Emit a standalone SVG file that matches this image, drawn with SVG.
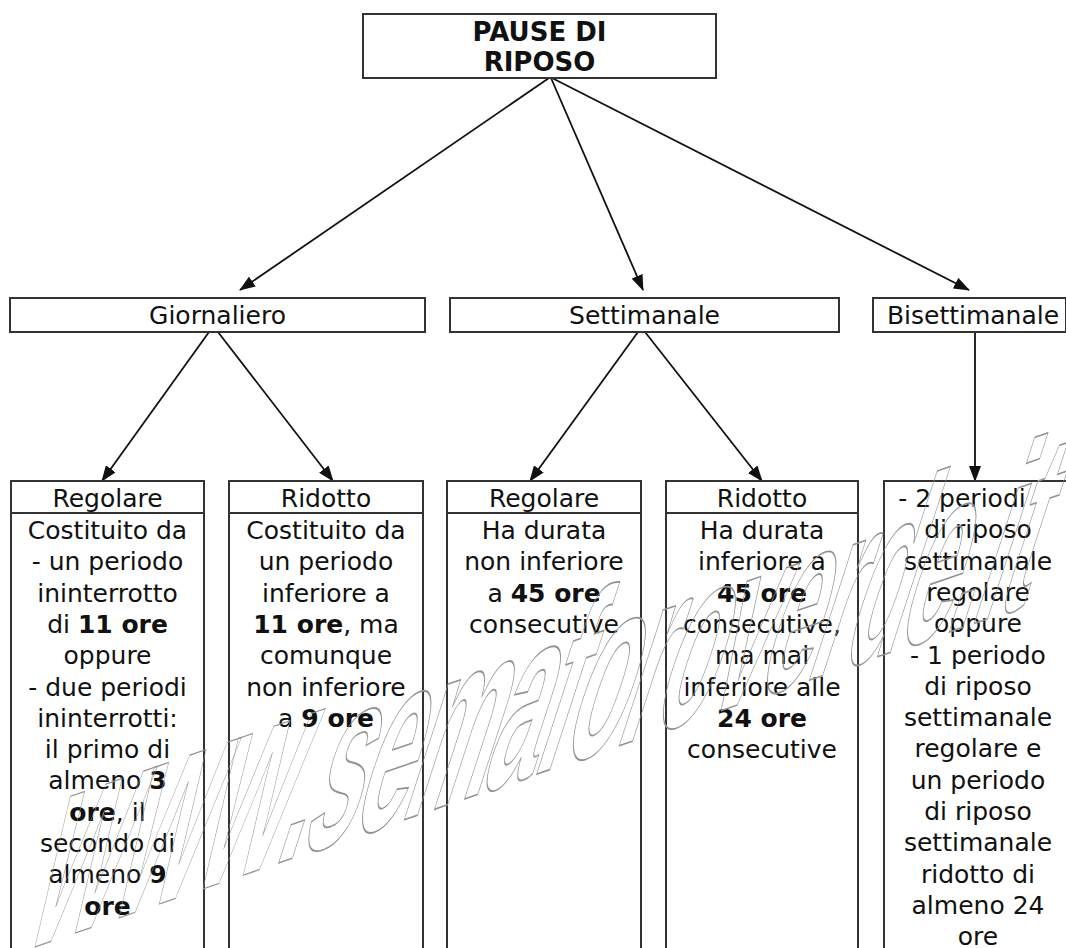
<svg xmlns="http://www.w3.org/2000/svg" width="1066" height="948" viewBox="0 0 1066 948">
<style>
.box{fill:#fff;stroke:#333;stroke-width:2}
.t{font-family:"DejaVu Sans",Verdana,sans-serif;font-size:25px;fill:#111;text-anchor:middle}
.title{font-family:"DejaVu Sans",Verdana,sans-serif;font-size:26px;font-weight:bold;fill:#111;text-anchor:middle}
.b{font-weight:bold}
.edge{stroke:#111;stroke-width:1.8;fill:none;marker-end:url(#ah)}
.wm{font-family:"Liberation Sans",Arial,sans-serif;font-size:270px;font-weight:bold;fill:none;stroke:#939393;stroke-width:1.5;vector-effect:non-scaling-stroke}
</style>
<defs>
<marker id="ah" markerWidth="16" markerHeight="12" refX="15" refY="6" orient="auto" markerUnits="userSpaceOnUse">
<path d="M0,0 L16,6 L0,12 Z" fill="#111"/>
</marker>
</defs>
<rect width="1066" height="948" fill="#fff"/>

<g id="connectors">
<line class="edge" x1="549" y1="78" x2="240" y2="290"/>
<line class="edge" x1="551" y1="78" x2="643" y2="290"/>
<line class="edge" x1="552" y1="78" x2="969" y2="290"/>
<line class="edge" x1="209" y1="332" x2="102" y2="481"/>
<line class="edge" x1="218" y1="332" x2="333" y2="481"/>
<line class="edge" x1="638" y1="332" x2="530" y2="481"/>
<line class="edge" x1="645" y1="332" x2="762" y2="481"/>
<line class="edge" x1="975" y1="332" x2="975" y2="481"/>
</g>

<g id="pause">
<rect class="box" x="363" y="14" width="353" height="64"/>
<text class="title" x="539.5" y="41">PAUSE DI</text>
<text class="title" x="539.5" y="71">RIPOSO</text>
</g>

<g id="giornaliero">
<rect class="box" x="10" y="298" width="415" height="34"/>
<text class="t" x="217.5" y="324">Giornaliero</text>
</g>
<g id="settimanale">
<rect class="box" x="450" y="298" width="389" height="34"/>
<text class="t" x="644.5" y="324">Settimanale</text>
</g>
<g id="bisettimanale">
<rect class="box" x="873" y="298" width="193" height="34"/>
<text class="t" x="973" y="324">Bisettimanale</text>
</g>

<g id="g-regolare">
<rect class="box" x="11" y="481" width="193" height="480"/>
<line x1="11" y1="513" x2="204" y2="513" stroke="#333" stroke-width="2"/>
<text class="t" x="107.5" y="507">Regolare</text>
<text class="t" x="107.5" y="539">Costituito da</text>
<text class="t" x="107.5" y="570.3">- un periodo</text>
<text class="t" x="107.5" y="601.6">ininterrotto</text>
<text class="t" x="107.5" y="632.9">di <tspan class="b">11 ore</tspan></text>
<text class="t" x="107.5" y="664.2">oppure</text>
<text class="t" x="107.5" y="695.5">- due periodi</text>
<text class="t" x="107.5" y="726.8">ininterrotti:</text>
<text class="t" x="107.5" y="758.1">il primo di</text>
<text class="t" x="107.5" y="789.4">almeno <tspan class="b">3</tspan></text>
<text class="t" x="107.5" y="820.7"><tspan class="b">ore</tspan>, il</text>
<text class="t" x="107.5" y="852">secondo di</text>
<text class="t" x="107.5" y="883.3">almeno <tspan class="b">9</tspan></text>
<text class="t" x="107.5" y="914.6"><tspan class="b">ore</tspan></text>
</g>

<g id="g-ridotto">
<rect class="box" x="229" y="481" width="194" height="480"/>
<line x1="229" y1="513" x2="423" y2="513" stroke="#333" stroke-width="2"/>
<text class="t" x="326" y="507">Ridotto</text>
<text class="t" x="326" y="539">Costituito da</text>
<text class="t" x="326" y="570.3">un periodo</text>
<text class="t" x="326" y="601.6">inferiore a</text>
<text class="t" x="326" y="632.9"><tspan class="b">11 ore</tspan>, ma</text>
<text class="t" x="326" y="664.2">comunque</text>
<text class="t" x="326" y="695.5">non inferiore</text>
<text class="t" x="326" y="726.8">a <tspan class="b">9 ore</tspan></text>
</g>

<g id="s-regolare">
<rect class="box" x="447" y="481" width="194" height="480"/>
<line x1="447" y1="513" x2="641" y2="513" stroke="#333" stroke-width="2"/>
<text class="t" x="544" y="507">Regolare</text>
<text class="t" x="544" y="539">Ha durata</text>
<text class="t" x="544" y="570.3">non inferiore</text>
<text class="t" x="544" y="601.6">a <tspan class="b">45 ore</tspan></text>
<text class="t" x="544" y="632.9">consecutive</text>
</g>

<g id="s-ridotto">
<rect class="box" x="666" y="481" width="192" height="480"/>
<line x1="666" y1="513" x2="858" y2="513" stroke="#333" stroke-width="2"/>
<text class="t" x="762" y="507">Ridotto</text>
<text class="t" x="762" y="539">Ha durata</text>
<text class="t" x="762" y="570.3">inferiore a</text>
<text class="t" x="762" y="601.6"><tspan class="b">45 ore</tspan></text>
<text class="t" x="762" y="632.9">consecutive,</text>
<text class="t" x="762" y="664.2">ma mai</text>
<text class="t" x="762" y="695.5">inferiore alle</text>
<text class="t" x="762" y="726.8"><tspan class="b">24 ore</tspan></text>
<text class="t" x="762" y="758.1">consecutive</text>
</g>

<g id="b-periodi">
<rect class="box" x="884" y="481" width="200" height="480"/>
<text class="t" x="962" y="507">- 2 periodi</text>
<text class="t" x="978" y="538.3">di riposo</text>
<text class="t" x="978" y="569.6">settimanale</text>
<text class="t" x="978" y="600.9">regolare</text>
<text class="t" x="978" y="632.2">oppure</text>
<text class="t" x="978" y="663.5">- 1 periodo</text>
<text class="t" x="978" y="694.8">di riposo</text>
<text class="t" x="978" y="726.1">settimanale</text>
<text class="t" x="978" y="757.4">regolare e</text>
<text class="t" x="978" y="788.7">un periodo</text>
<text class="t" x="978" y="820">di riposo</text>
<text class="t" x="978" y="851.3">settimanale</text>
<text class="t" x="978" y="882.6">ridotto di</text>
<text class="t" x="978" y="913.9">almeno 24</text>
<text class="t" x="978" y="945.2">ore</text>
</g>

<g id="watermark">
<text class="wm" transform="matrix(0.3593 -0.1237 -0.309 0.951 20 952)" x="0 233.8 467.6 701.4 771 911.5 1050.7 1273.3 1412.5 1496 1649 1746.5 1899.5 2038.7 2177.9 2275.3 2428.4 2567.5 2637.1 2706.7" y="0"><tspan font-size="310px">www</tspan>.semaforoverde.it</text>
</g>
</svg>
